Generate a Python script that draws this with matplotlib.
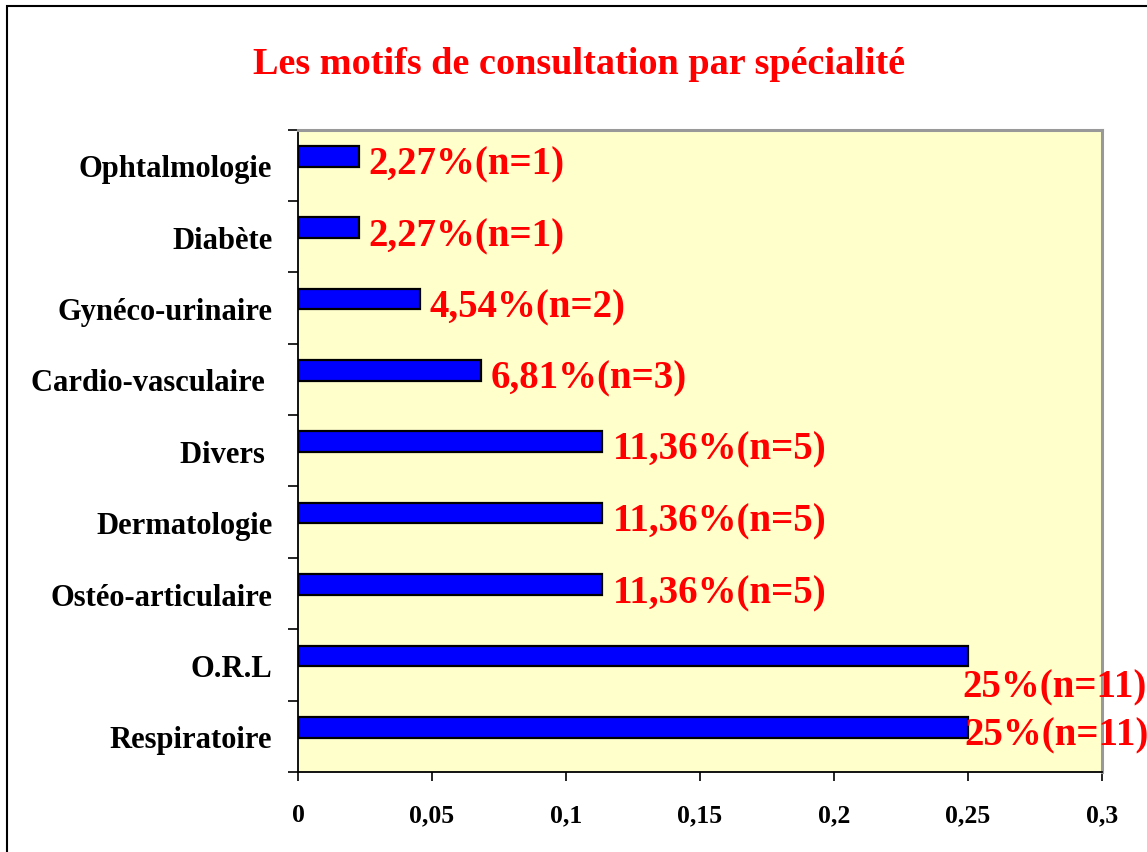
import matplotlib
matplotlib.use("Agg")
import matplotlib.pyplot as plt
from matplotlib.patches import Rectangle
from matplotlib.ticker import FixedLocator
import numpy as np

# ---- data ----
categories = ["Respiratoire", "O.R.L", "Ostéo-articulaire", "Dermatologie", "Divers ",
              "Cardio-vasculaire ", "Gynéco-urinaire", "Diabète", "Ophtalmologie"]
values = [0.25, 0.25, 0.1136, 0.1136, 0.1136, 0.0681, 0.0454, 0.0227, 0.0227]
labels = ["25%(n=11)", "25%(n=11)", "11,36%(n=5)", "11,36%(n=5)", "11,36%(n=5)",
          "6,81%(n=3)", "4,54%(n=2)", "2,27%(n=1)", "2,27%(n=1)"]
xticks = [0, 0.05, 0.1, 0.15, 0.2, 0.25, 0.3]
xtick_labels = ["0", "0,05", "0,1", "0,15", "0,2", "0,25", "0,3"]
title = "Les motifs de consultation par spécialité"

# ---- style ----
W, H, DPI = 1147, 853, 100
FONT = "Liberation Serif"
RED = "#FF0000"
# label offsets in pixels (dx from bar end, dy from category centre, up positive)
label_offsets = [(-4, 1), (-6, -22), (10, 1), (10, 1), (10, 2),
                 (10, 1), (10, 1), (10, 1), (10, 1)]

fig = plt.figure(figsize=(W / DPI, H / DPI), dpi=DPI)
fig.patch.set_facecolor("white")

ax = fig.add_axes([298 / W, 1 - 773 / H, (1102 - 298) / W, (773 - 130.5) / H])
ax.set_facecolor("#FFFFCC")

ypos = np.arange(len(categories))
bar_shift = 0.126
ax.barh(ypos + bar_shift, values, height=0.29, color="#0000FF",
        edgecolor="black", linewidth=1.6, zorder=3)

ax.set_xlim(0, 0.3)
ax.set_ylim(-0.5, len(categories) - 0.5)

# y: labels at centres, tick marks at boundaries
ax.set_yticks(ypos)
ax.set_yticklabels(categories, fontfamily=FONT, fontweight="bold", fontsize=22)
ax.tick_params(axis="y", which="major", length=0, pad=18.5)
ax.yaxis.set_minor_locator(FixedLocator(np.arange(-0.5, len(categories), 1.0)))
ax.tick_params(axis="y", which="minor", length=7.2, width=1.2, direction="out", color="black")

ax.set_xticks(xticks)
ax.set_xticklabels(xtick_labels, fontfamily=FONT, fontweight="bold", fontsize=18.5)
ax.tick_params(axis="x", which="major", length=6.5, width=1.2, direction="out", pad=16)

for s in ["left", "bottom"]:
    ax.spines[s].set_color("black")
    ax.spines[s].set_linewidth(1.3)
for s in ["top", "right"]:
    ax.spines[s].set_color("#999999")
    ax.spines[s].set_linewidth(2.2)

for y, v, t, (dx, dy) in zip(ypos, values, labels, label_offsets):
    ax.annotate(t, xy=(v, y), xytext=(dx, dy), textcoords="offset pixels",
                ha="left", va="center", color=RED, fontfamily=FONT,
                fontweight="bold", fontsize=28, zorder=5, annotation_clip=False)

fig.text(579 / W, 1 - 74 / H, title, ha="center", va="baseline", color=RED,
         fontfamily=FONT, fontweight="bold", fontsize=27.5)

# outer border (right and bottom edges run off the image)
fig.patches.append(Rectangle((6.5 / W, -0.1), 2.0, 1.1 - 7 / H, transform=fig.transFigure,
                             fill=False, edgecolor="black", linewidth=1.5))

fig.savefig("out.png", dpi=DPI)
